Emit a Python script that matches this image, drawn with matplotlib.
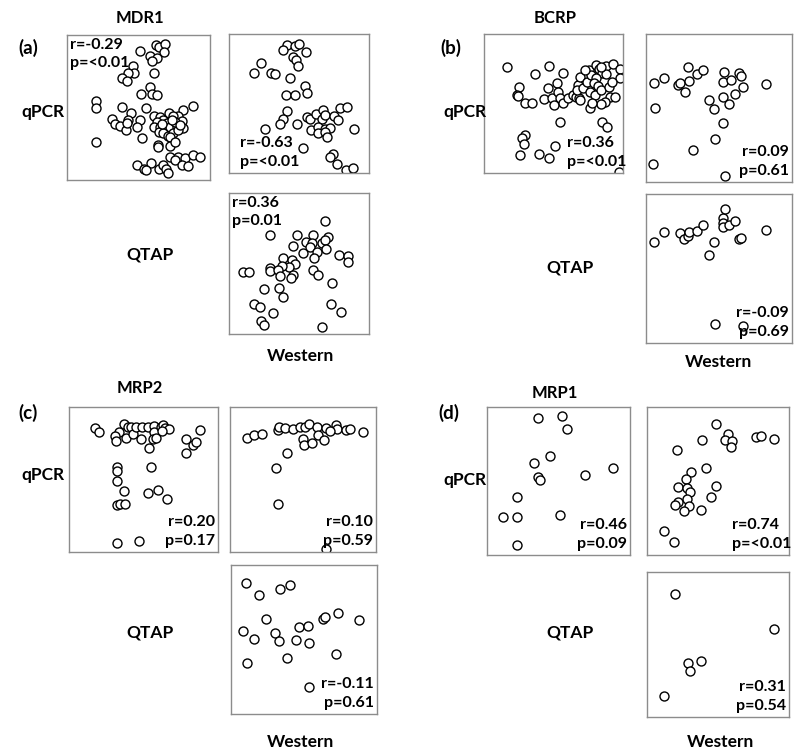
import matplotlib
matplotlib.use("Agg")
import matplotlib.pyplot as plt

plt.rcParams['font.family'] = ['Lato', 'DejaVu Sans']

# ---- MDR1 ----
mdr1_pq_x = [51.2, 62.1, 64.4, 68.8, 67.7, 57.7, 62.6, 59.3, 46.5, 47.0, 43.0, 38.4, 42.3, 60.5, 57.7,
             51.6, 59.3, 63.0, 20.5, 20.5, 38.8, 45.1, 54.9, 43.0, 31.4, 33.7, 37.2, 41.2, 41.9, 51.2,
             48.8, 87.9, 81.4, 71.6, 77.9, 60.5, 65.1, 67.4, 74.4, 80.2, 69.8, 62.8, 60.5, 65.1, 68.6,
             72.1, 76.7, 81.4, 64.0, 67.4, 70.9, 74.4, 77.9, 72.1, 75.6, 66.3, 73.3, 79.1, 52.3, 20.5,
             63.5, 63.5, 72.1, 75.6, 72.1, 77.9, 82.6, 88.4, 93.0, 75.6, 80.2, 84.4, 48.8, 53.5, 58.6,
             55.3, 64.0, 67.4, 69.3, 70.9]
mdr1_pq_y = [89.2, 92.9, 91.5, 93.6, 88.0, 85.5, 84.1, 82.3, 78.6, 74.0, 73.6, 70.1, 68.5, 74.0, 64.4,
             59.1, 59.1, 58.6, 54.7, 49.9, 50.6, 46.0, 49.4, 41.4, 41.8, 38.6, 37.2, 34.5, 39.1, 41.4,
             36.3, 51.0, 48.3, 46.4, 44.1, 44.1, 43.2, 41.4, 44.1, 40.9, 39.5, 40.2, 36.8, 36.8, 35.6,
             36.8, 36.8, 35.6, 33.3, 32.2, 30.3, 32.2, 34.5, 29.4, 40.2, 38.4, 41.4, 37.9, 29.0, 26.0,
             24.1, 22.5, 23.4, 26.0, 16.1, 15.6, 14.9, 17.2, 16.1, 13.8, 10.3, 9.7, 10.3, 7.4, 11.5,
             6.9, 7.4, 10.3, 7.4, 5.1]

mdr1_pw_x = [41.2, 47.1, 50.0, 38.8, 54.8, 46.0, 47.6, 49.5, 22.9, 17.9, 29.8, 32.9, 43.6, 54.3, 55.5,
             40.7, 47.1, 41.7, 38.8, 36.4, 25.7, 48.3, 55.5, 57.9, 62.1, 67.4, 66.2, 68.6, 75.2, 78.1,
             79.3, 84.0, 58.6, 63.8, 68.6, 72.1, 63.8, 68.6, 69.8, 89.5, 53.1, 74.5, 72.1, 76.9, 83.3,
             88.3]
mdr1_pw_y = [92.1, 91.3, 92.8, 88.5, 87.0, 83.2, 81.3, 76.9, 79.3, 71.6, 72.1, 71.2, 68.0, 62.5, 57.2,
             56.0, 56.0, 44.7, 39.2, 35.6, 32.0, 35.6, 40.4, 39.2, 42.8, 45.2, 38.5, 41.6, 40.9, 38.0,
             46.6, 47.6, 30.8, 33.2, 32.0, 32.7, 28.8, 29.6, 26.0, 31.7, 18.0, 13.5, 11.5, 6.3, 2.4,
             3.6]

mdr1_qw_x = [68.6, 29.3, 48.3, 60.2, 71.0, 54.8, 59.0, 66.2, 68.6, 46.0, 57.9, 69.3, 53.1, 62.6, 78.6,
             85.2, 85.2, 61.0, 38.8, 44.8, 47.1, 42.9, 37.6, 29.3, 29.3, 34.8, 9.8, 14.5, 60.2, 63.8,
             46.0, 44.3, 36.4, 73.8, 25.2, 35.7, 38.8, 18.1, 22.1, 72.6, 79.8, 31.2, 22.9, 25.2, 66.2]
mdr1_qw_y = [79.9, 70.4, 70.4, 70.4, 68.7, 64.9, 64.2, 64.2, 66.8, 62.6, 61.6, 60.4, 57.8, 58.1, 56.2,
             55.0, 51.4, 53.8, 53.8, 52.6, 49.8, 47.4, 47.9, 46.7, 45.0, 45.5, 44.3, 44.3, 45.7, 41.9,
             41.9, 40.0, 41.2, 36.0, 31.8, 32.5, 26.1, 21.3, 19.0, 21.3, 15.6, 15.2, 9.5, 6.4, 5.2]

# ---- BCRP ----
bcrp_pq_x = [16.7, 36.6, 46.7, 56.9, 52.6, 25.4, 23.4, 24.6, 29.4, 34.2, 43.1, 48.6, 46.2, 52.9, 55.0,
             50.7, 56.9, 60.5, 64.1, 66.0, 68.4, 68.9, 67.7, 68.9, 67.2, 71.3, 74.2, 75.6, 77.3, 80.9,
             82.8, 85.2, 88.0, 92.8, 88.0, 98.1, 97.6, 80.9, 78.9, 82.1, 76.1, 79.7, 84.5, 89.9, 92.3,
             90.4, 94.0, 86.8, 84.5, 76.1, 78.0, 72.5, 84.5, 54.5, 85.2, 88.5, 29.4, 27.0, 28.7, 50.9,
             25.8, 39.7, 46.9, 97.1]
bcrp_pq_y = [76.6, 71.3, 77.0, 72.2, 65.1, 61.7, 56.2, 55.5, 50.7, 50.7, 53.3, 53.8, 61.0, 58.6, 53.8,
             49.0, 50.7, 53.8, 56.2, 55.0, 53.8, 52.2, 63.4, 69.4, 59.8, 61.0, 65.8, 74.2, 70.6, 77.8,
             74.6, 72.2, 77.0, 78.5, 71.3, 74.6, 68.2, 68.2, 64.6, 62.7, 58.6, 56.2, 59.8, 61.7, 65.8,
             55.0, 55.0, 51.4, 49.8, 46.7, 50.7, 74.2, 76.6, 36.4, 36.4, 33.0, 27.5, 25.1, 21.1, 19.1,
             13.2, 13.9, 10.8, 1.0]

bcrp_pw_x = [5.7, 12.6, 21.9, 23.5, 26.5, 28.8, 29.7, 34.9, 38.8, 6.4, 43.4, 46.8, 52.5, 53.7, 52.5,
             58.2, 63.9, 65.3, 60.7, 57.1, 66.2, 82.4, 52.5, 47.5, 32.0, 4.6, 54.3]
bcrp_pw_y = [67.0, 70.4, 65.5, 67.0, 60.9, 77.4, 68.4, 72.9, 75.6, 50.1, 55.3, 49.2, 57.1, 74.0, 67.7,
             68.8, 73.8, 71.8, 59.4, 53.0, 63.9, 65.9, 40.0, 29.3, 21.9, 12.0, 4.1]

bcrp_qw_x = [5.7, 12.6, 23.5, 26.2, 28.8, 29.7, 34.9, 38.8, 46.8, 43.4, 52.5, 52.5, 54.3, 52.5, 57.1,
             60.7, 63.5, 65.3, 82.4, 47.5, 66.2]
bcrp_qw_y = [67.9, 74.7, 74.0, 69.7, 72.0, 74.7, 75.3, 79.1, 67.9, 59.0, 83.6, 80.7, 89.7, 77.6, 79.1,
             82.1, 69.5, 70.2, 75.8, 13.0, 11.2]

# ---- MRP2 ----
mrp2_pq_x = [17.6, 19.8, 37.1, 39.3, 33.8, 31.1, 31.6, 38.2, 41.6, 42.7, 45.3, 48.2, 49.3, 53.3, 53.8,
             57.1, 57.1, 56.4, 58.7, 61.6, 63.1, 64.4, 67.1, 62.7, 78.7, 83.3, 85.3, 87.6, 78.7, 32.0,
             32.0, 32.0, 54.9, 37.1, 53.3, 59.8, 65.6, 32.0, 34.2, 37.8, 32.0, 46.7]
mrp2_pq_y = [85.7, 82.8, 88.5, 86.2, 82.8, 80.0, 76.3, 78.6, 86.2, 81.6, 86.2, 77.7, 86.2, 86.2, 71.7,
             86.9, 82.8, 77.7, 78.6, 86.2, 87.8, 85.5, 84.6, 83.2, 77.7, 74.0, 75.9, 83.9, 68.5, 58.6,
             55.6, 48.7, 58.6, 41.8, 40.7, 42.5, 36.3, 32.6, 33.3, 33.3, 6.4, 7.6]

mrp2_pw_x = [11.9, 16.4, 22.1, 33.1, 33.8, 37.7, 42.9, 47.9, 51.4, 54.3, 59.4, 65.8, 72.6, 73.1, 68.5,
             79.5, 82.2, 90.9, 49.8, 50.7, 55.9, 60.5, 64.6, 39.3, 31.5, 33.1, 65.8]
mrp2_pw_y = [78.9, 80.5, 81.6, 83.9, 86.2, 85.5, 85.1, 86.2, 86.2, 88.5, 86.2, 85.5, 87.8, 85.1, 83.2,
             83.9, 84.6, 82.8, 77.7, 74.0, 75.4, 80.5, 77.0, 68.3, 58.2, 33.3, 1.8]

mrp2_qw_x = [10.5, 18.9, 33.8, 40.6, 24.2, 8.2, 16.0, 29.9, 32.6, 46.8, 52.5, 44.7, 53.7, 63.0, 64.2,
             73.5, 87.9, 38.4, 10.7, 72.1, 53.7]
mrp2_qw_y = [88.1, 79.9, 84.1, 86.4, 63.8, 55.9, 50.6, 54.6, 49.2, 58.4, 59.1, 49.7, 47.9, 63.5, 64.9,
             67.6, 63.1, 37.8, 34.5, 40.3, 18.1]

# ---- MRP1 ----
mrp1_pq_x = [35.6, 52.3, 56.0, 44.2, 32.6, 35.6, 37.4, 68.8, 87.9, 20.9, 11.2, 20.9, 50.7, 20.9]
mrp1_pq_y = [92.6, 93.7, 85.3, 66.6, 62.1, 52.6, 50.8, 54.2, 58.7, 39.1, 26.0, 26.0, 27.1, 6.5]

mrp1_pw_x = [48.4, 57.0, 54.7, 60.1, 59.4, 39.0, 77.0, 80.0, 89.2, 21.4, 31.2, 41.3, 27.7, 21.8, 28.4,
             30.0, 48.8, 45.3, 28.4, 21.8, 19.5, 29.6, 25.8, 37.8, 11.7, 18.8]
mrp1_pw_y = [88.7, 81.9, 77.4, 76.7, 72.9, 77.4, 79.7, 80.6, 78.3, 70.7, 56.4, 59.1, 51.5, 45.8, 45.1,
             42.4, 46.7, 39.5, 37.7, 36.1, 33.9, 33.2, 29.8, 30.5, 16.5, 8.6]

mrp1_qw_x = [20.0, 89.2, 28.9, 30.0, 37.8, 11.7]
mrp1_qw_y = [84.8, 60.7, 37.0, 31.6, 38.6, 14.5]

W, H = 800, 756
fig = plt.figure(figsize=(W / 100, H / 100), dpi=100)


def box(x0, y0, x1, y1, xs, ys, stat, where):
    # pixel box -> figure fraction
    ax = fig.add_axes([x0 / W, 1 - y1 / H, (x1 - x0) / W, (y1 - y0) / H])
    ax.scatter(xs, ys, s=42, facecolors='white', edgecolors='black', linewidths=1, zorder=2)
    ax.set_xlim(0, 100)
    ax.set_ylim(0, 100)
    ax.set_xticks([])
    ax.set_yticks([])
    for sp in ax.spines.values():
        sp.set_color('#8c8c8c')
        sp.set_linewidth(1)
    kw = dict(transform=ax.transAxes, fontsize=11.5, fontweight='bold', linespacing=1.4, zorder=3)
    if where == 'tl':
        ax.text(0.02, 0.98, stat, ha='left', va='top', **kw)
    elif where == 'bl':
        ax.text(0.08, 0.03, stat, ha='left', va='bottom', **kw)
    elif where == 'brl':
        ax.text(0.6, 0.03, stat, ha='left', va='bottom', **kw)
    else:
        ax.text(0.98, 0.03, stat, ha='right', va='bottom', multialignment='right', **kw)
    return ax


def label(x, y, s, size=12, ha='center'):
    fig.text(x / W, 1 - y / H, s, ha=ha, va='center', fontsize=size, fontweight='bold')


# (a) MDR1
box(67, 35, 210, 180, mdr1_pq_x, mdr1_pq_y, "r=-0.29\np=<0.01", 'tl')
box(229, 34, 369, 173, mdr1_pw_x, mdr1_pw_y, "r=-0.63\np=<0.01", 'bl')
box(229, 193, 369, 334, mdr1_qw_x, mdr1_qw_y, "r=0.36\np=0.01", 'tl')
label(18, 48, "(a)", 13.5, 'left')
label(140, 18, "MDR1")
label(21, 112, "qPCR", 12.5, 'left')
label(150, 255, "QTAP", 12.5)
label(300, 356, "Western", 12.5)

# (b) BCRP
box(484, 34, 623, 173, bcrp_pq_x, bcrp_pq_y, "r=0.36\np=<0.01", 'brl')
box(646, 34, 792, 182, bcrp_pw_x, bcrp_pw_y, "r=0.09\np=0.61", 'br')
box(646, 194, 792, 343, bcrp_qw_x, bcrp_qw_y, "r=-0.09\np=0.69", 'br')
label(440, 48, "(b)", 13.5, 'left')
label(555, 18, "BCRP")
label(443, 112, "qPCR", 12.5, 'left')
label(570, 268, "QTAP", 12.5)
label(718, 362, "Western", 12.5)

# (c) MRP2
box(69, 407, 218, 552, mrp2_pq_x, mrp2_pq_y, "r=0.20\np=0.17", 'br')
box(230, 407, 376, 552, mrp2_pw_x, mrp2_pw_y, "r=0.10\np=0.59", 'br')
box(231, 565, 377, 714, mrp2_qw_x, mrp2_qw_y, "r=-0.11\np=0.61", 'br')
label(18, 413, "(c)", 13.5, 'left')
label(140, 388, "MRP2")
label(21, 475, "qPCR", 12.5, 'left')
label(150, 632, "QTAP", 12.5)
label(300, 742, "Western", 12.5)

# (d) MRP1
box(487, 407, 630, 555, mrp1_pq_x, mrp1_pq_y, "r=0.46\np=0.09", 'br')
box(647, 407, 789, 555, mrp1_pw_x, mrp1_pw_y, "r=0.74\np=<0.01", 'brl')
box(647, 572, 789, 717, mrp1_qw_x, mrp1_qw_y, "r=0.31\np=0.54", 'br')
label(438, 413, "(d)", 13.5, 'left')
label(555, 393, "MRP1")
label(443, 480, "qPCR", 12.5, 'left')
label(570, 632, "QTAP", 12.5)
label(720, 742, "Western", 12.5)

fig.savefig("out.png", dpi=100)
